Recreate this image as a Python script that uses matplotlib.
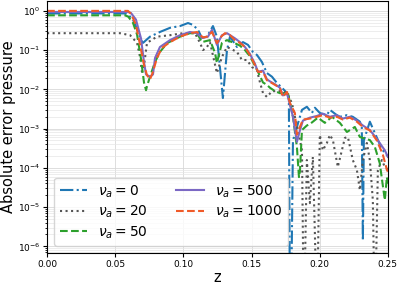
import matplotlib
matplotlib.use("Agg")
import matplotlib.pyplot as plt
from matplotlib.ticker import NullFormatter, LogLocator

# values (z, absolute error) for each nu_a
z_nu0 = [0, 0.057, 0.0594, 0.063, 0.066, 0.0689, 0.0704, 0.0755, 0.0828, 0.0902, 0.0975, 0.1034,
         0.107, 0.1107, 0.1136, 0.1173, 0.1217, 0.1246, 0.1268, 0.129, 0.132, 0.1342, 0.1393,
         0.1437, 0.1474, 0.151, 0.154, 0.1576, 0.1613, 0.165, 0.1686, 0.1723, 0.176, 0.1774,
         0.1782, 0.1789, 0.1804, 0.187, 0.1906, 0.1943, 0.1965, 0.2001, 0.2053, 0.2075, 0.2126,
         0.2148, 0.22, 0.2243, 0.2295, 0.2309, 0.2317, 0.2324, 0.2368, 0.2405, 0.2456, 0.2493, 0.25]
err_nu0 = [0.86, 0.86, 0.8, 0.6, 0.35, 0.18, 0.153, 0.22, 0.29, 0.37, 0.41, 0.49,
           0.44, 0.33, 0.205, 0.22, 0.41, 0.22, 0.037, 0.006, 0.1, 0.22, 0.12,
           0.16, 0.136, 0.09, 0.075, 0.05, 0.026, 0.021, 0.0146, 0.011, 0.0081, 0.006,
           1e-8, 1e-8, 0.0005, 0.003, 0.0036, 0.0025, 0.0034, 0.0025, 0.0022, 0.003, 0.0022,
           0.002, 0.0022, 0.002, 0.0015, 0.0011, 1.4e-6, 0.0005, 0.0015, 0.00077, 0.0003, 0.00021, 0.0002]

z_nu20 = [0, 0.0535, 0.0609, 0.066, 0.0682, 0.0696, 0.0711, 0.0733, 0.0806, 0.0902, 0.0997, 0.1085,
          0.1122, 0.1144, 0.1173, 0.1195, 0.1246, 0.1283, 0.132, 0.1393, 0.143, 0.1466, 0.1503,
          0.154, 0.1562, 0.1584, 0.1613, 0.165, 0.1723, 0.176, 0.1796, 0.1818, 0.184, 0.187,
          0.1884, 0.1906, 0.1928, 0.195, 0.1965, 0.198, 0.2001, 0.2023, 0.2053, 0.2075, 0.2097,
          0.2133, 0.2163, 0.2185, 0.2207, 0.2243, 0.2273, 0.2295, 0.2317, 0.2346, 0.2368, 0.239,
          0.2405, 0.2427, 0.2456, 0.2478, 0.25]
err_nu20 = [0.27, 0.27, 0.24, 0.153, 0.067, 0.028, 0.04, 0.153, 0.22, 0.24, 0.27, 0.27,
            0.153, 0.1, 0.12, 0.16, 0.026, 0.067, 0.12, 0.09, 0.056, 0.056, 0.037,
            0.031, 0.015, 0.0081, 0.0064, 0.009, 0.009, 0.0081, 0.0045, 0.002, 0.00092, 0.00028,
            1e-8, 0.000158, 1.26e-5, 0.00019, 2e-6, 1e-8, 0.00069, 0.00028, 0.00043, 0.00069, 0.00051,
            0.000105, 0.00028, 0.00058, 0.00061, 0.000158, 8.8e-5, 2.7e-5, 0.000158, 0.00043, 0.000158, 1.5e-5,
            1e-8, 8.8e-5, 0.000158, 0.000105, 9e-5]

z_nu50 = [0, 0.057, 0.0594, 0.063, 0.066, 0.0689, 0.0711, 0.0726, 0.0733, 0.0755, 0.0792, 0.0828,
          0.088, 0.0975, 0.1048, 0.110, 0.1136, 0.1195, 0.1232, 0.1246, 0.1283, 0.132, 0.1378,
          0.1415, 0.1452, 0.1488, 0.1525, 0.1547, 0.1584, 0.1613, 0.1635, 0.1672, 0.1708, 0.1767,
          0.1804, 0.1833, 0.1848, 0.1855, 0.187, 0.1906, 0.1928, 0.1987, 0.2038, 0.209, 0.2148,
          0.22, 0.2258, 0.2295, 0.2368, 0.2405, 0.2441, 0.2478, 0.2493, 0.25]
err_nu50 = [0.77, 0.77, 0.72, 0.5, 0.25, 0.06, 0.015, 0.0095, 0.012, 0.021, 0.05, 0.09,
            0.15, 0.22, 0.27, 0.27, 0.16, 0.18, 0.085, 0.047, 0.153, 0.18, 0.15,
            0.13, 0.1, 0.07, 0.04, 0.028, 0.015, 0.013, 0.011, 0.009, 0.008, 0.008,
            0.002, 0.00034, 5.8e-5, 8e-5, 0.00092, 0.0012, 0.0013, 0.0019, 0.0014, 0.002, 0.0014,
            0.00082, 0.0011, 0.00061, 0.00051, 0.00034, 0.00013, 1.5e-5, 5.8e-5, 4e-5]

z_nu500 = [0, 0.0594, 0.0616, 0.0652, 0.0689, 0.0711, 0.0726, 0.0755, 0.0777, 0.0792, 0.0828, 0.0902,
           0.0975, 0.1048, 0.110, 0.1136, 0.118, 0.121, 0.1246, 0.1283, 0.132, 0.1378, 0.1415,
           0.1452, 0.1488, 0.1525, 0.1547, 0.1584, 0.1613, 0.1635, 0.1672, 0.1708, 0.173, 0.176,
           0.1782, 0.1804, 0.1833, 0.1855, 0.1877, 0.1928, 0.198, 0.2023, 0.2075, 0.2126, 0.217,
           0.2221, 0.2273, 0.2317, 0.2368, 0.2419, 0.2478, 0.25]
err_nu500 = [0.94, 0.94, 0.88, 0.6, 0.2, 0.05, 0.024, 0.021, 0.024, 0.063, 0.12, 0.18,
             0.24, 0.29, 0.27, 0.205, 0.22, 0.33, 0.136, 0.24, 0.27, 0.2, 0.16,
             0.12, 0.08, 0.045, 0.028, 0.03, 0.018, 0.016, 0.0135, 0.011, 0.007, 0.008,
             0.004, 0.002, 0.00046, 0.0009, 0.0016, 0.0019, 0.0021, 0.0024, 0.002, 0.0022, 0.0018,
             0.002, 0.0016, 0.0012, 0.00092, 0.00055, 0.00028, 0.00019]

z_nu1000 = [0, 0.0594, 0.0616, 0.0652, 0.0682, 0.0711, 0.0733, 0.0755, 0.0777, 0.0806, 0.0843, 0.0902,
            0.0975, 0.1048, 0.110, 0.1144, 0.1173, 0.121, 0.1246, 0.1268, 0.1305, 0.1342, 0.1378,
            0.1415, 0.1452, 0.1488, 0.1525, 0.1547, 0.1584, 0.1613, 0.1635, 0.1672, 0.1708, 0.173,
            0.176, 0.1782, 0.1818, 0.1833, 0.1855, 0.1877, 0.1928, 0.198, 0.2023, 0.2075, 0.2126,
            0.217, 0.2221, 0.2273, 0.2317, 0.2368, 0.2419, 0.2463, 0.2493, 0.25]
err_nu1000 = [1.0, 1.0, 0.84, 0.44, 0.136, 0.042, 0.023, 0.018, 0.028, 0.063, 0.114, 0.16,
              0.22, 0.27, 0.29, 0.21, 0.22, 0.29, 0.15, 0.205, 0.27, 0.24, 0.18,
              0.153, 0.12, 0.075, 0.042, 0.028, 0.028, 0.017, 0.0155, 0.013, 0.011, 0.0064,
              0.0086, 0.0045, 0.0025, 0.0007, 0.0011, 0.0017, 0.0018, 0.002, 0.0022, 0.0019, 0.002,
              0.0017, 0.0019, 0.0015, 0.0011, 0.0009, 0.0005, 0.00022, 0.00009, 0.00008]

series = [
    (z_nu0, err_nu0, r'$\nu_a = 0$', '#1f77b4', '-.'),
    (z_nu20, err_nu20, r'$\nu_a = 20$', '#555555', ':'),
    (z_nu50, err_nu50, r'$\nu_a = 50$', '#2ca02c', '--'),
    (z_nu500, err_nu500, r'$\nu_a = 500$', '#7b68c4', '-'),
    (z_nu1000, err_nu1000, r'$\nu_a = 1000$', '#f05a28', '--'),
]

fig = plt.figure(figsize=(3.99, 2.87), dpi=100)
ax = fig.add_axes([0.118, 0.118, 0.854, 0.879])

for z, e, lab, col, ls in series:
    ax.plot(z, e, ls, color=col, lw=1.5, label=lab)

ax.set_yscale('log')
ax.set_xlim(0, 0.25)
ax.set_ylim(6.7e-7, 1.8)
ax.yaxis.set_major_locator(LogLocator(base=10, numticks=10))
ax.yaxis.set_minor_formatter(NullFormatter())
ax.set_xticks([0, 0.05, 0.10, 0.15, 0.20, 0.25])
ax.set_xticklabels(['0.00', '0.05', '0.10', '0.15', '0.20', '0.25'])
ax.tick_params(labelsize=6.5, pad=2)
ax.tick_params(which='major', length=3)
ax.tick_params(which='minor', length=1.8)
ax.grid(True, which='major', color='#d8d8d8', lw=0.6)
ax.grid(True, which='minor', axis='y', color='#e6e6e6', lw=0.5)
ax.set_axisbelow(True)

ax.set_xlabel('z', fontsize=10.5, labelpad=1)
ax.set_ylabel('Absolute error pressure', fontsize=10.5, labelpad=1)
ax.legend(loc='lower left', ncol=2, fontsize=10, labelspacing=0.3)

fig.savefig('out.png', dpi=100)
